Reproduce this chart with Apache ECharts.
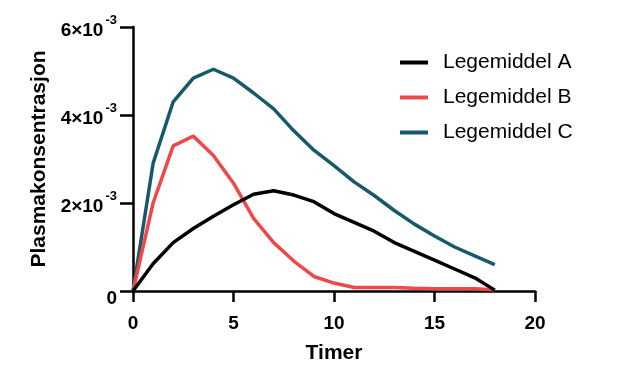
<!DOCTYPE html>
<html>
<head>
<meta charset="utf-8">
<script src="https://cdn.jsdelivr.net/npm/echarts@6/dist/echarts.min.js"></script>
<style>html,body{margin:0;padding:0;background:#fff;}#c{width:638px;height:369px;}</style>
</head>
<body>
<div id="c"></div>
<script>
const hours = [0,1,2,3,4,5,6,7,8,9,10,11,12,13,14,15,16,17,18];
const drugA = [0,0.62e-3,1.1e-3,1.42e-3,1.7e-3,1.96e-3,2.2e-3,2.28e-3,2.18e-3,2.03e-3,1.76e-3,1.56e-3,1.36e-3,1.1e-3,0.9e-3,0.7e-3,0.5e-3,0.3e-3,0.02e-3];
const drugB = [0,2.0e-3,3.3e-3,3.52e-3,3.08e-3,2.45e-3,1.65e-3,1.1e-3,0.68e-3,0.33e-3,0.18e-3,0.08e-3,0.08e-3,0.08e-3,0.06e-3,0.05e-3,0.05e-3,0.05e-3,0.03e-3];
const drugC = [0,2.9e-3,4.3e-3,4.84e-3,5.04e-3,4.84e-3,4.5e-3,4.14e-3,3.64e-3,3.2e-3,2.85e-3,2.48e-3,2.17e-3,1.83e-3,1.52e-3,1.25e-3,1.0e-3,0.8e-3,0.6e-3];
const seriesNames = ['Legemiddel A','Legemiddel B','Legemiddel C'];
const colors = ['#000000','#ef4848','#17596b'];
const xTitle = 'Timer';
const yTitle = 'Plasmakonsentrasjon';

const font = '"Liberation Sans", Arial, sans-serif';
const chart = echarts.init(document.getElementById('c'), null, {renderer:'canvas'});
const mk = (arr) => hours.map((h,i)=>[h,arr[i]]);
const datas = [drugA, drugB, drugC];
chart.setOption({
  animation:false,
  grid:{left:133,right:103,top:27,bottom:74,containLabel:false},
  legend:{
    orient:'vertical', left:400, top:52, padding:0,
    itemWidth:28, itemHeight:4, itemGap:14, icon:'rect',
    textStyle:{fontFamily:font,fontSize:21,color:'#000',padding:[0,0,0,10]},
    data:seriesNames
  },
  xAxis:{
    type:'value', min:0, max:20, interval:5,
    name:xTitle, nameLocation:'middle', nameGap:52,
    nameTextStyle:{fontFamily:font,fontSize:21,fontWeight:'bold',color:'#000'},
    axisLine:{show:true,onZero:false,lineStyle:{color:'#000',width:2.5}},
    axisTick:{show:true,length:11,lineStyle:{color:'#000',width:2.5}},
    axisLabel:{fontFamily:font,fontSize:19,fontWeight:'bold',color:'#000',margin:23},
    splitLine:{show:false}
  },
  yAxis:{
    type:'value', min:0, max:0.006, interval:0.002,
    name:yTitle, nameLocation:'middle', nameGap:80,
    nameTextStyle:{fontFamily:font,fontSize:21,fontWeight:'bold',color:'#000'},
    axisLine:{show:true,onZero:false,lineStyle:{color:'#000',width:2.5}},
    axisTick:{show:true,length:13,lineStyle:{color:'#000',width:2.5}},
    axisLabel:{
      margin:16,
      formatter:function(v){ if(v===0) return '{z|0}'; return '{a|'+Math.round(v*1000)+'×10}{s|-3}'; },
      rich:{
        z:{fontFamily:font,fontSize:19,fontWeight:'bold',color:'#000',padding:[15,0,0,0]},
        a:{fontFamily:font,fontSize:19,fontWeight:'bold',color:'#000',padding:[7,0,0,0]},
        s:{fontFamily:font,fontSize:13,fontWeight:'bold',color:'#000',verticalAlign:'top',padding:[0,0,8,2]}
      }
    },
    splitLine:{show:false}
  },
  series: seriesNames.map((n,i)=>({
    name:n, type:'line', data:mk(datas[i]), showSymbol:false, symbol:'none',
    lineStyle:{color:colors[i],width:3.5}, itemStyle:{color:colors[i]}, z: i===0?5:(i===1?4:3)
  }))
});
</script>
</body>
</html>
